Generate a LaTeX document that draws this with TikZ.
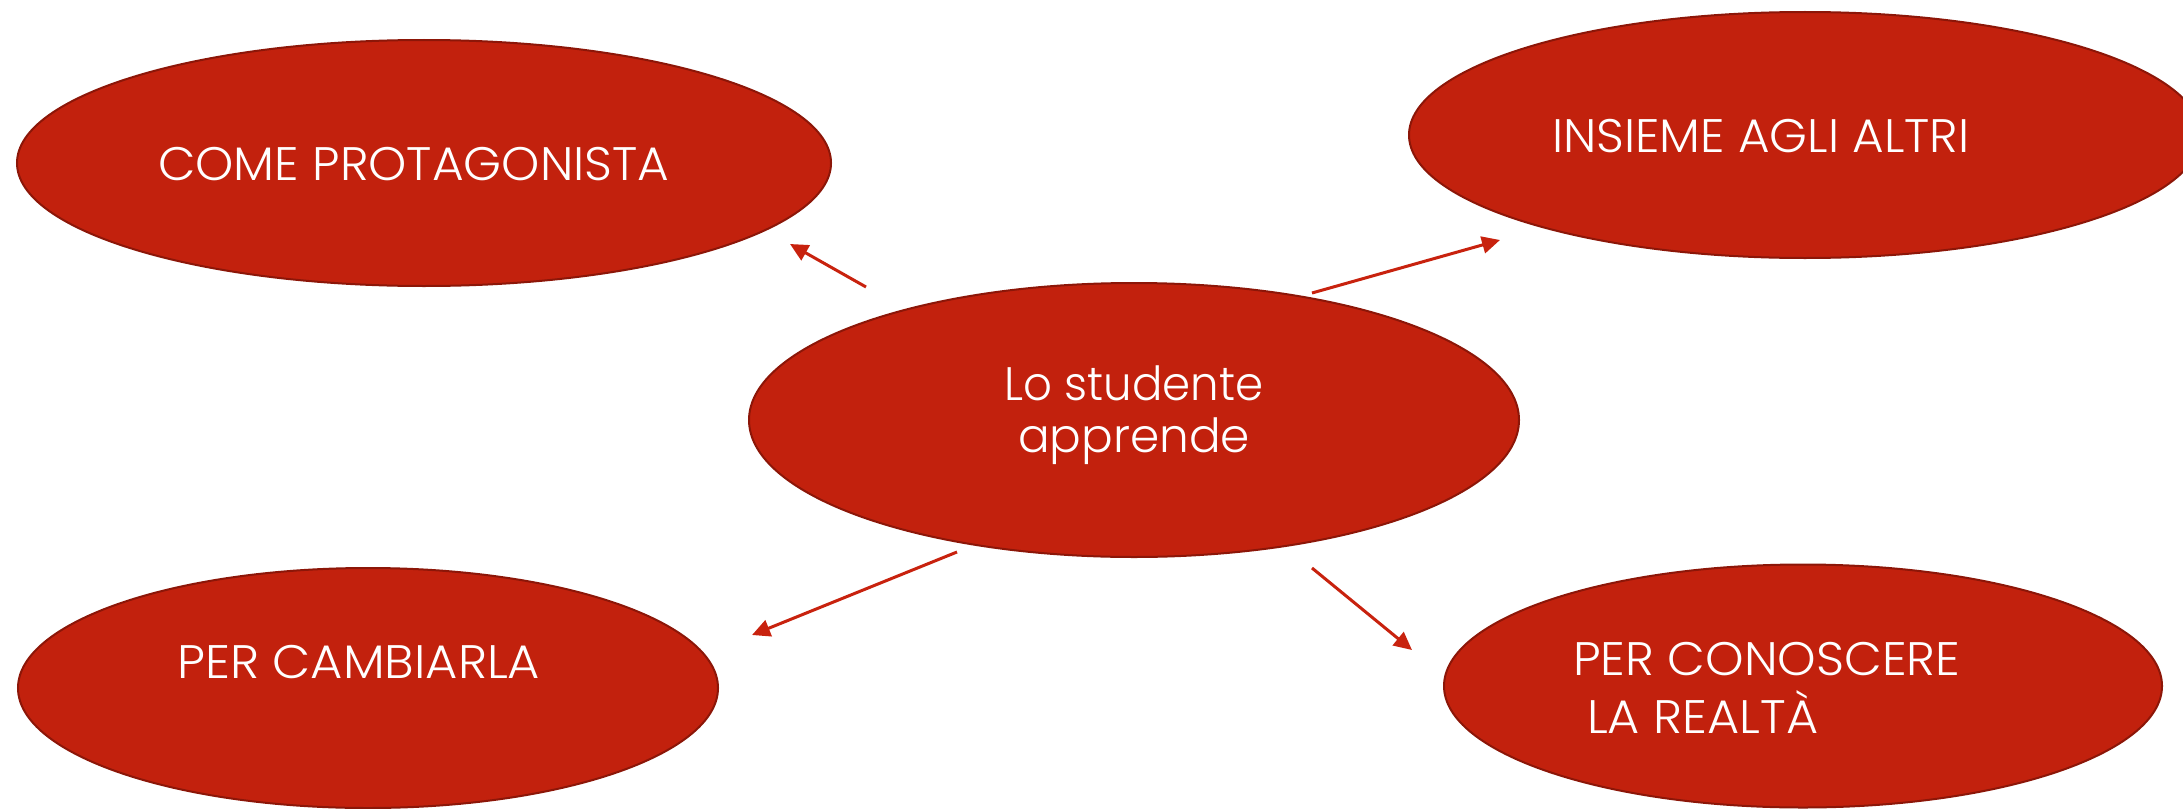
\documentclass[tikz,border=0pt]{standalone}
\usepackage{graphicx}
\usepackage{fontspec}
\setmainfont{Poppins}[UprightFont=* Light]
\usetikzlibrary{shapes.geometric,arrows.meta}
\definecolor{ellfill}{RGB}{194,33,13}
\definecolor{elldraw}{RGB}{140,22,8}
\definecolor{arrred}{RGB}{200,34,14}
\newlength\mytmpw
\newcommand\fitto[2]{\settowidth{\mytmpw}{#2}\scalebox{\fpeval{#1/\mytmpw}}[1]{#2}}
\begin{document}
\begin{tikzpicture}[x=1pt,y=-1pt,
  bubble/.style={ellipse, fill=ellfill, draw=elldraw, line width=2pt, inner sep=0pt},
  lbl/.style={text=white, font=\fontsize{47}{54}\selectfont, inner sep=0pt},
  arr/.style={draw=arrred, line width=3pt, -{Triangle[length=18pt,width=17pt]}}]
\useasboundingbox (0,0) rectangle (2183,808);
\clip (0,0) rectangle (2183,808);
% ellipses
\node[bubble, minimum width=814pt, minimum height=246pt] (tl) at (424,163) {};
\node[bubble, minimum width=792pt, minimum height=246pt] (tr) at (1805,135) {};
\node[bubble, minimum width=770pt, minimum height=274pt] (c) at (1134,420) {};
\node[bubble, minimum width=700pt, minimum height=240pt] (bl) at (368,688) {};
\node[bubble, minimum width=718pt, minimum height=243pt] (br) at (1803,686) {};
% texts
\node[lbl, anchor=base west] (tlT) at (158,180) {\fitto{511pt}{COME PROTAGONISTA}};
\node[lbl, anchor=base west] (trT) at (1552,152) {\fitto{417pt}{INSIEME AGLI ALTRI}};
\node[lbl, anchor=base west] (blT) at (177,678) {\fitto{363pt}{PER CAMBIARLA}};
\node[lbl, anchor=base west] (brT1) at (1573,675) {\fitto{387pt}{PER CONOSCERE}};
\node[lbl, anchor=base west] (brT2) at (1587,733) {\fitto{231pt}{LA REALTÀ}};
\node[lbl, anchor=base] (cT1) at (1134,400) {\fitto{259pt}{Lo studente}};
\node[lbl, anchor=base] (cT2) at (1134,452) {\fitto{232pt}{apprende}};
% connector end points
\coordinate (a1s) at (866,287);
\coordinate (a1e) at (790,244);
\coordinate (a2s) at (1312,293);
\coordinate (a2e) at (1500,240);
\coordinate (a3s) at (957,552);
\coordinate (a3e) at (752,635);
\coordinate (a4s) at (1312,568);
\coordinate (a4e) at (1412,650);
\draw[arr] (a1s) -- (a1e);
\draw[arr] (a2s) -- (a2e);
\draw[arr] (a3s) -- (a3e);
\draw[arr] (a4s) -- (a4e);
\end{tikzpicture}
\end{document}
